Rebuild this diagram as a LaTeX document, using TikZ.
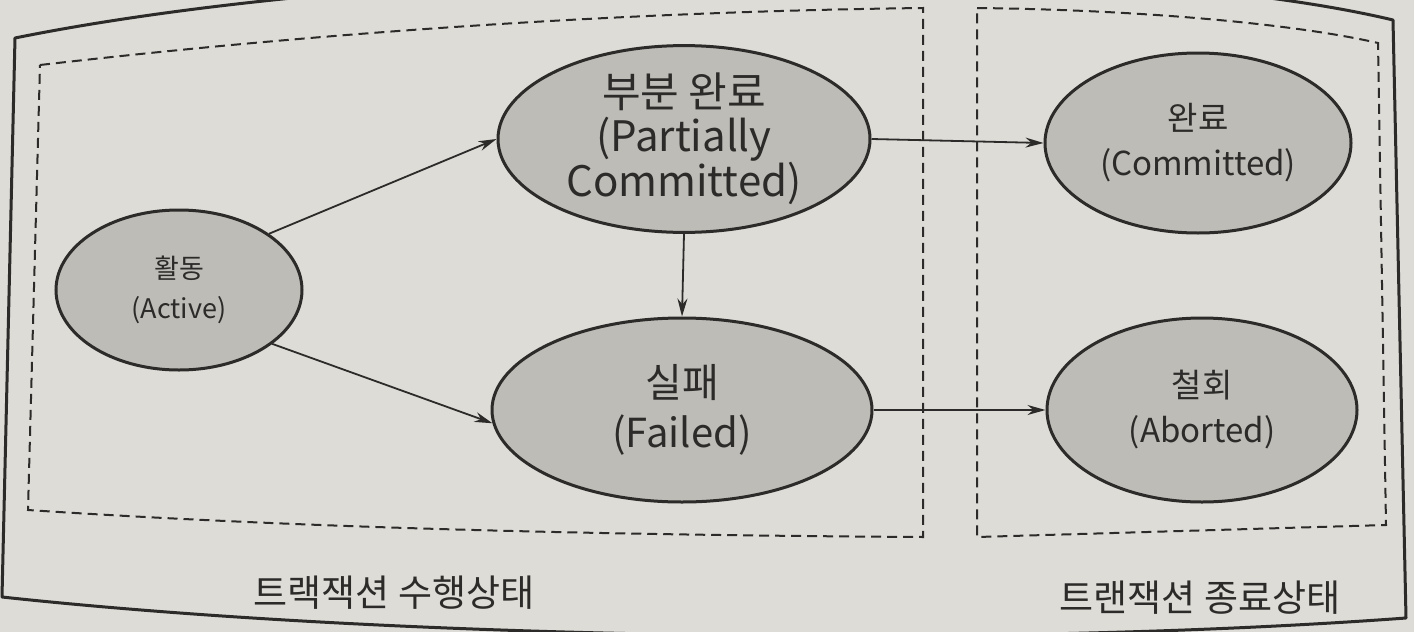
\documentclass[tikz,border=0pt]{standalone}
\usepackage{fontspec}
\setmainfont{Noto Sans CJK KR}
\usepackage{tikz}
\usetikzlibrary{shapes,arrows,arrows.meta}

\definecolor{paper}{RGB}{222,220,215}
\definecolor{shade}{RGB}{190,188,183}
\definecolor{ink}{RGB}{45,43,41}

\begin{document}
\begin{tikzpicture}[x=1pt,y=-1pt,>={Stealth[length=18pt,width=10pt]},color=ink]
\tikzstyle{phase}=[ellipse,draw=ink,line width=3pt,fill=shade,inner sep=0pt,align=center,text=ink]
\tikzstyle{zone}=[line width=2pt,dash pattern=on 10pt off 6pt]
\useasboundingbox (0,0) rectangle (1414,632);
\fill[paper] (0,0) rectangle (1414,632);
% page frame and the two state zones
\draw[line width=3pt,line join=round] (15,38) .. controls (400,-40) and (1100,-50) .. (1393,20)
      -- (1406,618) .. controls (1000,648) and (400,640) .. (2,597) -- cycle;
\draw[zone] (40,65) .. controls (300,35) and (600,12) .. (923,8) -- (923,537)
      .. controls (600,535) and (300,528) .. (28,510) -- cycle;
\draw[zone] (977,8) .. controls (1150,10) and (1300,25) .. (1378,43) -- (1386,525)
      -- (977,537) -- cycle;
\node[phase,minimum width=246pt,minimum height=160pt,font=\fontsize{27}{40}\selectfont] (act) at (179,290) {활동\\(Active)};
\node[phase,minimum width=372pt,minimum height=184pt,font=\fontsize{42}{44}\selectfont] (part) at (684,139) {부분 완료\\(Partially\\Committed)};
\node[phase,minimum width=380pt,minimum height=184pt,font=\fontsize{40}{50}\selectfont] (fail) at (682,410) {실패\\(Failed)};
\node[phase,minimum width=306pt,minimum height=180pt,font=\fontsize{33}{45}\selectfont] (comm) at (1198,143) {완료\\(Committed)};
\node[phase,minimum width=310pt,minimum height=184pt,font=\fontsize{33}{45}\selectfont] (abort) at (1202,410) {철회\\(Aborted)};
\node[font=\fontsize{37}{40}\selectfont] (runlbl) at (394,593) {트랙잭션 수행상태};
\node[font=\fontsize{37}{40}\selectfont] (endlbl) at (1200,598) {트랜잭션 종료상태};
\path[->,line width=1.8pt] (act.32) edge (part.west)
      (act.-30) edge (fail.184)
      (part.south) edge (fail.north)
      (part.east) edge (comm.west)
      (fail.east) edge (abort.west);
\end{tikzpicture}
\end{document}
